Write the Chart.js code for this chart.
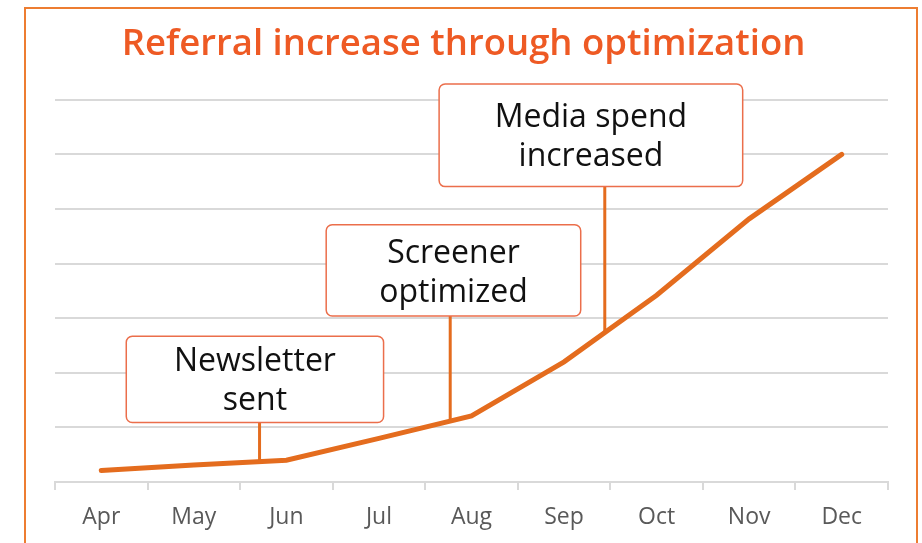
<!DOCTYPE html>
<html>
<head>
<meta charset="utf-8">
<script src="https://cdn.jsdelivr.net/npm/chart.js@4"></script>
<style>
  body { margin: 0; background: #fff; }
  .frame { position: absolute; left: 24px; top: 7px; width: 890px; height: 560px; border: 2px solid #ED7D31; }
  .wrap { position: absolute; left: 0; top: 0; width: 922px; height: 543px; }
</style>
</head>
<body>
<div class="frame"></div>
<div class="wrap"><canvas id="myChart"></canvas></div>
<script>
let months = ['Apr', 'May', 'Jun', 'Jul', 'Aug', 'Sep', 'Oct', 'Nov', 'Dec'];
let referrals = [0.21, 0.31, 0.4, 0.8, 1.21, 2.2, 3.42, 4.82, 6.0];
let noteTexts = [['Newsletter', 'sent'], ['Screener', 'optimized'], ['Media spend', 'increased']];
let noteAt = [1.71, 3.77, 5.44];

// boxes in scale units: x as category index, y as value
let noteBoxes = [
    { x1: 0.27, x2: 3.05, y1: 2.67, y2: 1.09 },
    { x1: 2.43, x2: 5.18, y1: 4.71, y2: 3.04 },
    { x1: 3.65, x2: 6.93, y1: 7.29, y2: 5.41 }
];

let callouts = {
    id: 'callouts',
    beforeDatasetsDraw(chart) {
        let ctx = chart.ctx;
        let xs = chart.scales.x, ys = chart.scales.y;
        let pts = chart.getDatasetMeta(0).data;
        ctx.save();
        noteBoxes.forEach((b, i) => {
            let left = xs.getPixelForValue(b.x1), right = xs.getPixelForValue(b.x2);
            let top = ys.getPixelForValue(b.y1), bottom = ys.getPixelForValue(b.y2);
            // leader line down to the series
            let k = Math.floor(noteAt[i]), f = noteAt[i] - k;
            let lx = xs.getPixelForValue(noteAt[i]);
            let ly = pts[k].y + (pts[k + 1].y - pts[k].y) * f;
            ctx.strokeStyle = '#E46C1E';
            ctx.lineWidth = 3;
            ctx.beginPath();
            ctx.moveTo(lx, bottom);
            ctx.lineTo(lx, ly);
            ctx.stroke();
            // box
            ctx.fillStyle = '#fff';
            ctx.strokeStyle = '#EB6E4B';
            ctx.lineWidth = 1.5;
            ctx.beginPath();
            ctx.roundRect(left, top, right - left, bottom - top, 6);
            ctx.fill();
            ctx.stroke();
            ctx.fillStyle = '#111';
            ctx.font = '32px "Open Sans"';
            ctx.textAlign = 'center';
            ctx.textBaseline = 'middle';
            let cx = (left + right) / 2, cy = (top + bottom) / 2;
            ctx.fillText(noteTexts[i][0], cx, cy - 17);
            ctx.fillText(noteTexts[i][1], cx, cy + 22);
        });
        ctx.restore();
    }
};

let myChart = document.getElementById('myChart').getContext('2d');
let chart = new Chart(myChart, {
    type: 'line',
    data: {
        labels: months,
        datasets: [{
            data: referrals,
            borderColor: '#E46C1E',
            borderWidth: 5,
            borderCapStyle: 'round',
            pointRadius: 0,
            tension: 0,
            fill: false
        }]
    },
    options: {
        responsive: true,
        maintainAspectRatio: false,
        animation: false,
        layout: { padding: { left: 39, right: 34, top: 8, bottom: 0 } },
        plugins: {
            legend: { display: false },
            tooltip: { enabled: false },
            title: {
                display: true,
                text: 'Referral increase through optimization',
                color: '#EE5A24',
                font: { family: 'Open Sans', size: 36.5, weight: '600' },
                padding: { top: 15, bottom: 33 }
            }
        },
        scales: {
            x: {
                offset: true,
                afterFit(scale) { scale.height = 61; },
                grid: { offset: true, drawOnChartArea: false, color: '#D9D9D9', lineWidth: 2, tickLength: 8 },
                border: { color: '#D9D9D9', width: 2 },
                ticks: { color: '#595959', padding: 14, font: { family: 'Open Sans', size: 23 } }
            },
            y: {
                min: 0,
                max: 7,
                afterFit(scale) { scale.width = 16; },
                ticks: { display: false, stepSize: 1 },
                border: { display: false },
                grid: { color: '#D9D9D9', lineWidth: 2, drawTicks: false }
            }
        }
    },
    plugins: [callouts]
});
</script>
</body>
</html>
